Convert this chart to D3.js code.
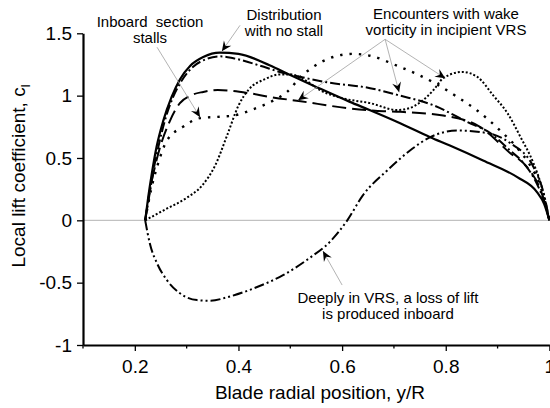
<!DOCTYPE html>
<html>
<head>
<meta charset="utf-8">
<script src="https://cdn.jsdelivr.net/npm/d3@7"></script>
<style>
  html, body { margin: 0; padding: 0; background: #fff; }
  svg { display: block; }
  text { font-family: "Liberation Sans", Arial, sans-serif; fill: #000; }
</style>
</head>
<body>
<svg id="chart" width="550" height="408"></svg>
<script>
// ---- data (y/R, c_l) ----
const noStall = [[0.22,0],[0.226,0.19],[0.233,0.38],[0.242,0.59],[0.255,0.80],[0.271,0.99],[0.287,1.13],[0.307,1.24],[0.332,1.31],[0.364,1.345],[0.40,1.335],[0.46,1.244],[0.50,1.165],[0.55,1.07],[0.615,0.95],[0.654,0.883],[0.712,0.779],[0.77,0.667],[0.808,0.60],[0.872,0.48],[0.938,0.346],[0.976,0.226],[0.99,0.13],[1.0,0]];
const dashDot = [[0.22,0],[0.228,0.2],[0.236,0.4],[0.246,0.6],[0.258,0.8],[0.274,0.99],[0.292,1.13],[0.312,1.23],[0.336,1.29],[0.364,1.315],[0.39,1.30],[0.442,1.24],[0.48,1.19],[0.52,1.15],[0.571,1.107],[0.654,1.06],[0.712,1.0],[0.776,0.923],[0.841,0.79],[0.886,0.70],[0.924,0.56],[0.95,0.46],[0.975,0.30],[0.99,0.15],[1.0,0]];
const longDash = [[0.22,0],[0.229,0.24],[0.24,0.45],[0.249,0.59],[0.268,0.80],[0.287,0.94],[0.307,1.0],[0.332,1.03],[0.36,1.045],[0.42,1.02],[0.46,0.99],[0.52,0.955],[0.61,0.90],[0.68,0.875],[0.712,0.87],[0.795,0.84],[0.866,0.75],[0.924,0.54],[0.957,0.426],[0.985,0.22],[1.0,0]];
const fineDot = [[0.22,0],[0.26,0.09],[0.30,0.18],[0.33,0.28],[0.355,0.44],[0.378,0.68],[0.40,0.92],[0.42,1.05],[0.45,1.13],[0.48,1.17],[0.50,1.17],[0.53,1.12],[0.558,1.043],[0.60,0.98],[0.654,0.94],[0.706,0.885],[0.73,0.90],[0.751,0.947],[0.776,1.043],[0.795,1.14],[0.832,1.19],[0.861,1.15],[0.892,1.0],[0.919,0.86],[0.944,0.67],[0.969,0.46],[0.985,0.27],[1.0,0]];
const sparseDot = [[0.22,0],[0.23,0.22],[0.243,0.43],[0.262,0.64],[0.293,0.75],[0.326,0.82],[0.36,0.83],[0.39,0.84],[0.428,0.89],[0.467,0.96],[0.494,1.03],[0.52,1.15],[0.544,1.23],[0.583,1.31],[0.62,1.335],[0.654,1.32],[0.706,1.24],[0.776,1.107],[0.822,0.99],[0.86,0.883],[0.905,0.72],[0.938,0.58],[0.963,0.44],[0.982,0.28],[1.0,0]];
const dashDotDot = [[0.22,0],[0.229,-0.186],[0.243,-0.346],[0.262,-0.48],[0.287,-0.585],[0.32,-0.64],[0.345,-0.645],[0.384,-0.61],[0.436,-0.535],[0.486,-0.44],[0.538,-0.30],[0.577,-0.17],[0.61,0],[0.64,0.2],[0.687,0.4],[0.731,0.56],[0.77,0.667],[0.822,0.72],[0.88,0.70],[0.924,0.62],[0.969,0.43],[0.99,0.2],[1.0,0]];

const xTicks = [0.2, 0.4, 0.6, 0.8, 1];
const xMinorTicks = [0.1, 0.3, 0.5, 0.7, 0.9];
const yTicks = [-1, -0.5, 0, 0.5, 1, 1.5];

const xLabel = "Blade radial position, y/R";
const yLabel = "Local lift coefficient, c";
const yLabelSub = "l";

// annotation arrows: [fromX, fromY, toX, toY] in data units
const arrows = [
  [0.2429, 1.388, 0.3259, 0.827],
  [0.403, 1.564, 0.368, 1.356],
  [0.683, 1.452, 0.515, 0.963],
  [0.683, 1.452, 0.71, 1.027],
  [0.683, 1.452, 0.799, 1.139],
  [0.60, -0.519, 0.563, -0.247]
];
const notes = [
  {lines: ["Inboard  section", "stalls"], x: 150, y: 27},
  {lines: ["Distribution", "with no stall"], x: 284, y: 20},
  {lines: ["Encounters with wake", "vorticity in incipient VRS"], x: 446, y: 19},
  {lines: ["Deeply in VRS, a loss of lift", "is produced inboard"], x: 388, y: 303}
];

// ---- drawing ----
const svg = d3.select("#chart");
const x = d3.scaleLinear().domain([0.1, 1]).range([83, 549.4]);
const y = d3.scaleLinear().domain([-1, 1.5]).range([345, 33.3]);

// zero line
svg.append("line")
  .attr("x1", x(0.1)).attr("x2", x(1))
  .attr("y1", y(0)).attr("y2", y(0))
  .attr("stroke", "#b4b4b4").attr("stroke-width", 1);

const line = d3.line().x(d => x(d[0])).y(d => y(d[1])).curve(d3.curveMonotoneX);

const series = [
  {data: noStall, dash: null, w: 2.2},
  {data: dashDot, dash: "10,3,2,3", w: 2},
  {data: longDash, dash: "14,6", w: 2},
  {data: fineDot, dash: "2,2", w: 2},
  {data: sparseDot, dash: "2.4,7", w: 2.4},
  {data: dashDotDot, dash: "10,3,2,3,2,3", w: 2}
];
series.forEach(s => {
  svg.append("path")
    .attr("d", line(s.data))
    .attr("fill", "none")
    .attr("stroke", "#000")
    .attr("stroke-width", s.w)
    .attr("stroke-dasharray", s.dash);
});

// axes
const fmt = d => String(d);
const gx = svg.append("g").attr("transform", `translate(0,${y(-1)})`)
  .call(d3.axisBottom(x).tickValues(xTicks).tickFormat(fmt).tickSize(6).tickSizeOuter(0).tickPadding(9));
gx.selectAll(".tick line").attr("stroke-width", 1.3);
gx.select(".domain").attr("stroke-width", 2.2);
gx.selectAll("text").attr("font-size", 19).attr("font-family", "Liberation Sans, Arial, sans-serif");
gx.selectAll(".minor").data(xMinorTicks).enter().append("line")
  .attr("x1", d => x(d)).attr("x2", d => x(d)).attr("y1", 0).attr("y2", 3.5)
  .attr("stroke", "#000").attr("stroke-width", 1.3);

const gy = svg.append("g").attr("transform", `translate(${x(0.1)},0)`)
  .call(d3.axisLeft(y).tickValues(yTicks).tickFormat(fmt).tickSize(6).tickSizeOuter(0).tickPadding(5));
gy.selectAll(".tick line").attr("stroke-width", 1.3);
gy.select(".domain").attr("stroke-width", 2.2);
gy.selectAll("text").attr("font-size", 19).attr("font-family", "Liberation Sans, Arial, sans-serif");

// axis titles
svg.append("text")
  .attr("x", 320).attr("y", 399)
  .attr("text-anchor", "middle").attr("font-size", 19)
  .text(xLabel);
const yl = svg.append("text")
  .attr("transform", "translate(25,176) rotate(-90)")
  .attr("text-anchor", "middle").attr("font-size", 19);
yl.append("tspan").text(yLabel);
yl.append("tspan").attr("font-size", 13).attr("dy", 5).text(yLabelSub);

// arrows
const defs = svg.append("defs");
defs.append("marker")
  .attr("id", "ah").attr("markerUnits", "userSpaceOnUse")
  .attr("viewBox", "-11 -6 12 12").attr("refX", 0).attr("refY", 0)
  .attr("markerWidth", 12).attr("markerHeight", 12).attr("orient", "auto")
  .append("path").attr("d", "M0,0 L-10,-4.5 L-6.5,0 L-10,4.5 Z").attr("fill", "#000");

svg.selectAll(".arrow").data(arrows).enter().append("line")
  .attr("x1", d => x(d[0])).attr("y1", d => y(d[1]))
  .attr("x2", d => x(d[2])).attr("y2", d => y(d[3]))
  .attr("stroke", "#a0a0a0").attr("stroke-width", 0.8)
  .attr("marker-end", "url(#ah)");

// notes
notes.forEach(n => {
  const t = svg.append("text").attr("text-anchor", "middle").attr("font-size", 15)
    .style("white-space", "pre");
  n.lines.forEach((l, i) => {
    t.append("tspan").attr("x", n.x).attr("y", n.y + i * 16).text(l);
  });
});
</script>
</body>
</html>
